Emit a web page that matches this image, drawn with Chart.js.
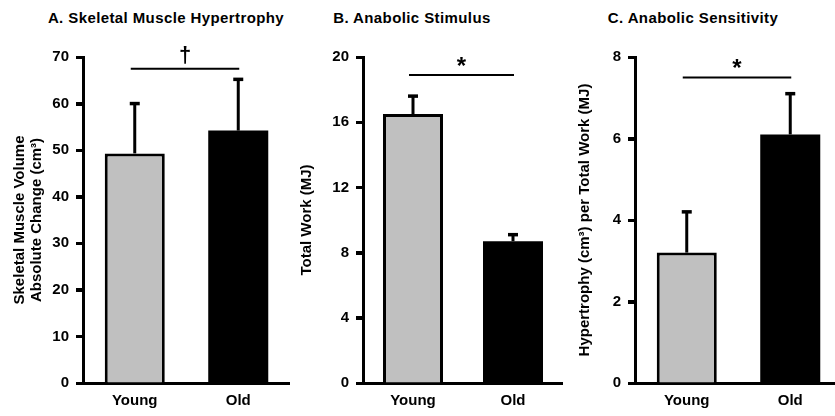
<!DOCTYPE html>
<html>
<head>
<meta charset="utf-8">
<script src="https://cdn.jsdelivr.net/npm/chart.js@4.4.1/dist/chart.umd.min.js"></script>
<style>
  body { margin: 0; width: 835px; height: 416px; overflow: hidden; background: #fff; position: relative;
         font-family: "Liberation Sans", Arial, sans-serif; }
  canvas { position: absolute; top: 0; }
  .title { position: absolute; top: 8px; font-size: 15px; font-weight: bold; letter-spacing: 0.4px;
           white-space: nowrap; transform: translateX(-50%); line-height: 20px; }
</style>
</head>
<body>
<div class="title" style="left:166px">A. Skeletal Muscle Hypertrophy</div>
<div class="title" style="left:412px">B. Anabolic Stimulus</div>
<div class="title" style="left:693px">C. Anabolic Sensitivity</div>

<canvas id="chartA" width="290" height="416" style="left:0"></canvas>
<canvas id="chartB" width="273" height="416" style="left:290px"></canvas>
<canvas id="chartC" width="279" height="416" style="left:563px"></canvas>

<script>
const categories = ["Young", "Old"];
const barColors = ["#c0c0c0", "#000000"];

// A. hypertrophy (cm3)
const hypertrophy = [49.3, 54.2];
const hypertrophyErr = [10.7, 11];
const hypertrophyTicks = [0, 10, 20, 30, 40, 50, 60, 70];

// B. total work (MJ)
const totalWork = [16.5, 8.7];
const totalWorkErr = [1.1, 0.4];
const totalWorkTicks = [0, 4, 8, 12, 16, 20];

// C. hypertrophy per total work
const sensitivity = [3.2, 6.1];
const sensitivityErr = [1.0, 1.0];
const sensitivityTicks = [0, 2, 4, 6, 8];

const FONT = '"Liberation Sans", Arial, sans-serif';

// error bars, y tick marks and significance bar
const errorBars = {
  id: "errorBars",
  afterDatasetsDraw(chart, args, opts) {
    const { ctx, chartArea, scales: { y } } = chart;
    const meta = chart.getDatasetMeta(0);
    const vals = chart.data.datasets[0].data;
    ctx.save();
    ctx.strokeStyle = "#000";
    ctx.fillStyle = "#000";

    // tick marks left of the axis
    ctx.lineWidth = 3;
    y.ticks.forEach((t) => {
      const py = Math.round(y.getPixelForValue(t.value)) + 0.5;
      ctx.beginPath();
      ctx.moveTo(chartArea.left - 7, py);
      ctx.lineTo(chartArea.left, py);
      ctx.stroke();
    });

    opts.errors.forEach((err, i) => {
      const bar = meta.data[i];
      const top = y.getPixelForValue(vals[i] + err);
      ctx.lineWidth = 3;
      ctx.beginPath();
      ctx.moveTo(bar.x, bar.y);
      ctx.lineTo(bar.x, top);
      ctx.stroke();
      ctx.lineWidth = 3.5;
      ctx.beginPath();
      ctx.moveTo(bar.x - 5, top);
      ctx.lineTo(bar.x + 5, top);
      ctx.stroke();
    });

    const sy = y.getPixelForValue(opts.sigLevel);
    const x0 = meta.data[0].x - 4;
    const x1 = meta.data[1].x + 1;
    ctx.lineWidth = 2;
    ctx.beginPath();
    ctx.moveTo(x0, sy);
    ctx.lineTo(x1, sy);
    ctx.stroke();
    ctx.font = "bold " + opts.markSize + "px " + FONT;
    ctx.textAlign = "center";
    ctx.textBaseline = "alphabetic";
    ctx.fillText(opts.mark, (x0 + x1) / 2, sy - opts.markOffset);
    ctx.restore();
  },
};

function makeChart(id, values, errors, ticks, cfg) {
  return new Chart(document.getElementById(id), {
    type: "bar",
    data: {
      labels: categories,
      datasets: [{
        data: values,
        backgroundColor: barColors,
        borderColor: "#000",
        borderWidth: [3, 0],
        borderSkipped: "start",
        barPercentage: cfg.barPct,
        categoryPercentage: 1,
      }],
    },
    options: {
      responsive: false,
      animation: false,
      layout: { padding: { top: 57, right: 0, bottom: 0, left: 0 } },
      plugins: {
        legend: { display: false },
        tooltip: { enabled: false },
        errorBars: {
          errors: errors,
          sigLevel: cfg.sigLevel,
          mark: cfg.mark,
          markSize: cfg.markSize,
          markOffset: cfg.markOffset,
        },
      },
      scales: {
        x: {
          grid: { display: false, drawTicks: false },
          border: { color: "#000", width: 3 },
          ticks: { color: "#000", padding: 9, font: { family: FONT, size: 15, weight: "bold" } },
          afterFit: (s) => { s.height = 33; },
        },
        y: {
          min: ticks[0],
          max: ticks[ticks.length - 1],
          afterBuildTicks: (s) => { s.ticks = ticks.map((v) => ({ value: v })); },
          grid: { drawOnChartArea: false, drawTicks: true, tickLength: 7, tickColor: "#000", tickWidth: 3 },
          border: { color: "#000", width: 3 },
          ticks: { color: "#000", padding: 7, font: { family: FONT, size: 15, weight: "bold" } },
          title: {
            display: true,
            text: cfg.yTitle,
            color: "#000",
            padding: { top: cfg.titlePad, bottom: 0 },
            font: { family: FONT, size: 15, weight: "bold", lineHeight: 1.1 },
          },
          afterFit: (s) => { s.width = cfg.yWidth; },
        },
      },
    },
    plugins: [errorBars],
  });
}

makeChart("chartA", hypertrophy, hypertrophyErr, hypertrophyTicks, {
  yTitle: ["Skeletal Muscle Volume", "Absolute Change (cm³)"],
  yWidth: 83, titlePad: 12, barPct: 0.58,
  sigLevel: 67.5, mark: "†", markSize: 22, markOffset: 7,
});

makeChart("chartB", totalWork, totalWorkErr, totalWorkTicks, {
  yTitle: "Total Work (MJ)",
  yWidth: 73, titlePad: 9, barPct: 0.6,
  sigLevel: 18.9, mark: "*", markSize: 24, markOffset: 1,
});

makeChart("chartC", sensitivity, sensitivityErr, sensitivityTicks, {
  yTitle: "Hypertrophy (cm³) per Total Work (MJ)",
  yWidth: 72, titlePad: 14, barPct: 0.58,
  sigLevel: 7.5, mark: "*", markSize: 24, markOffset: 1,
});
</script>
</body>
</html>
